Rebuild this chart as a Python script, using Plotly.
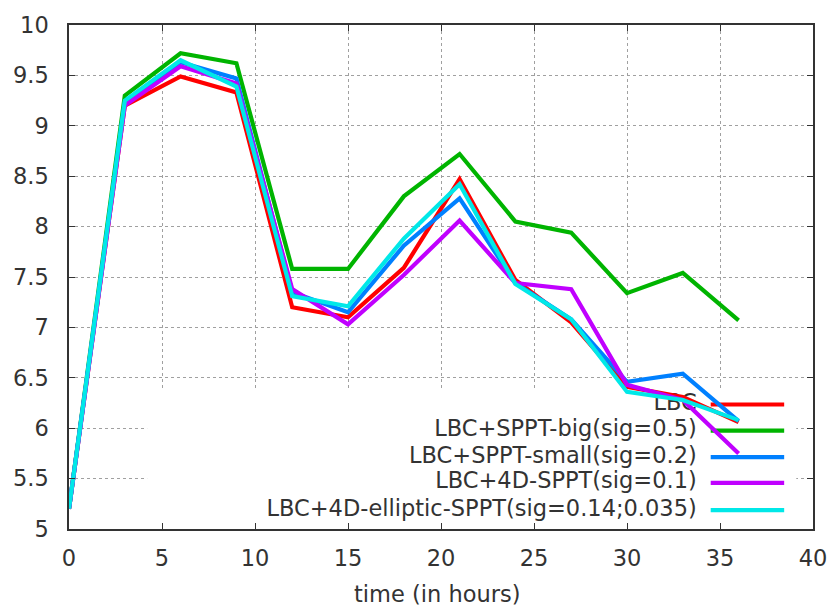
import plotly.graph_objects as go

# Forecast lead time (hours)
hours = [0, 3, 6, 9, 12, 15, 18, 21, 24, 27, 30, 33, 36]

# Score per experiment
lbc = [5.2, 9.2, 9.49, 9.33, 7.2, 7.1, 7.59, 8.47, 7.47, 7.05, 6.41, 6.31, 6.06]
sppt_big = [5.2, 9.3, 9.72, 9.62, 7.58, 7.58, 8.3, 8.72, 8.05, 7.94, 7.34, 7.54, 7.07]
sppt_small = [5.2, 9.23, 9.63, 9.47, 7.35, 7.15, 7.81, 8.28, 7.44, 7.08, 6.46, 6.54, 6.07]
sppt_4d = [5.2, 9.2, 9.59, 9.42, 7.38, 7.03, 7.52, 8.06, 7.44, 7.38, 6.43, 6.28, 5.75]
sppt_ell = [5.2, 9.25, 9.65, 9.39, 7.31, 7.21, 7.88, 8.42, 7.43, 7.08, 6.36, 6.28, 6.08]

names = [
    "LBC",
    "LBC+SPPT-big(sig=0.5)",
    "LBC+SPPT-small(sig=0.2)",
    "LBC+4D-SPPT(sig=0.1)",
    "LBC+4D-elliptic-SPPT(sig=0.14;0.035)",
]
series = [lbc, sppt_big, sppt_small, sppt_4d, sppt_ell]
colors = ["#ff0000", "#00b400", "#0080ff", "#c000ff", "#00e8e8"]

x_ticks = [0, 5, 10, 15, 20, 25, 30, 35, 40]
y_ticks = [5, 5.5, 6, 6.5, 7, 7.5, 8, 8.5, 9, 9.5, 10]
y_ticklabels = ["5", "5.5", "6", "6.5", "7", "7.5", "8", "8.5", "9", "9.5", "10"]

FONT = "DejaVu Sans"
FS = 22.5
TEXT = "#333333"
LW = 4.2

# key placement (axis units)
KEY_BOX = dict(x0=4.2, x1=39.1, y0=5.0, y1=6.39)
KEY_TEXT_X = 33.75
KEY_LINE_X = (34.5, 38.45)
KEY_ROWS = [6.235, 5.975, 5.714, 5.458, 5.188]

fig = go.Figure()

# key labels first so the curves are painted over them
fig.add_trace(go.Scatter(
    x=[KEY_TEXT_X] * len(names), y=KEY_ROWS, text=names,
    mode="text", textposition="middle left",
    textfont=dict(family=FONT, size=FS, color=TEXT),
    hoverinfo="skip", showlegend=False,
))

for name, ys, c in zip(names, series, colors):
    fig.add_trace(go.Scatter(
        x=hours, y=ys, name=name, mode="lines",
        line=dict(color=c, width=LW), showlegend=False,
    ))

shapes = [dict(type="rect", xref="x", yref="y", layer="between",
               fillcolor="white", line=dict(width=0), **KEY_BOX)]
for row, c in zip(KEY_ROWS, colors):
    shapes.append(dict(type="line", xref="x", yref="y", layer="between",
                       x0=KEY_LINE_X[0], x1=KEY_LINE_X[1], y0=row, y1=row,
                       line=dict(color=c, width=LW)))

axis_common = dict(
    showline=True, mirror="allticks", linecolor="#333333", linewidth=1.5,
    ticks="inside", ticklen=6, tickwidth=1.2, tickcolor="#333333",
    showgrid=True, gridcolor="#a0a0a0", gridwidth=1, griddash="3px,3px",
    zeroline=False, tickfont=dict(family=FONT, size=FS, color=TEXT),
)

fig.update_layout(
    width=839, height=606,
    margin=dict(l=69, r=19, t=23, b=77),
    paper_bgcolor="white", plot_bgcolor="white",
    shapes=shapes,
    xaxis=dict(range=[0, 40], tickvals=x_ticks, ticklabelstandoff=8, **axis_common),
    yaxis=dict(range=[5, 10], tickvals=y_ticks, ticktext=y_ticklabels,
               ticklabelstandoff=14, **axis_common),
    annotations=[dict(text="time (in hours)", xref="paper", yref="paper",
                      x=(440.5 - 69) / 751, y=-(594 - 529) / 506,
                      xanchor="center", yanchor="middle", showarrow=False,
                      font=dict(family=FONT, size=FS, color=TEXT))],
)

fig.write_html("out.html")
